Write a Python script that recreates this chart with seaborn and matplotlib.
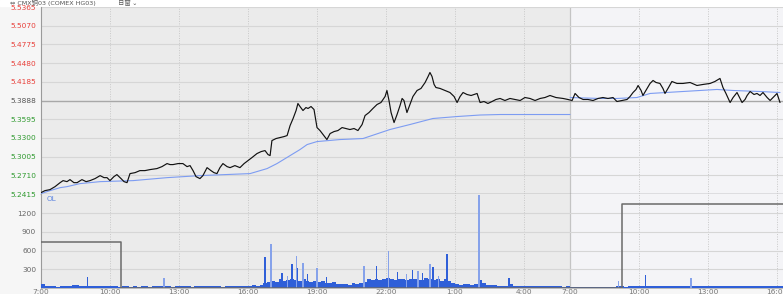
import matplotlib
matplotlib.use("Agg")
import matplotlib.pyplot as plt
import seaborn as sns
import numpy as np
import pandas as pd

# ---------------- data ----------------
# time in hours from the 7:00 session start (second session starts at 23 h)
price_t = [0, 0.17, 0.39, 0.61, 0.83, 0.96, 1.13, 1.26, 1.43, 1.57,
           1.78, 1.96, 2.13, 2.35, 2.57, 2.74, 2.87, 3.0, 3.17, 3.30,
           3.48, 3.61, 3.74, 3.87, 4.09, 4.30, 4.52, 4.74, 5.04, 5.26,
           5.48, 5.61, 5.74, 5.96, 6.17, 6.35, 6.48, 6.61, 6.74, 6.91,
           7.04, 7.22, 7.39, 7.52, 7.65, 7.78, 7.91, 8.09, 8.22, 8.43,
           8.65, 8.83, 9.0, 9.17, 9.39, 9.57, 9.74, 9.87, 9.96, 10.04,
           10.22, 10.39, 10.57, 10.70, 10.83, 10.96, 11.09, 11.17, 11.26, 11.39,
           11.52, 11.61, 11.74, 11.87, 12.0, 12.13, 12.30, 12.43, 12.57, 12.74,
           12.91, 13.09, 13.26, 13.43, 13.61, 13.78, 13.96, 14.09, 14.26, 14.43,
           14.61, 14.78, 14.96, 15.04, 15.13, 15.22, 15.35, 15.48, 15.61, 15.70,
           15.78, 15.91, 16.04, 16.17, 16.35, 16.52, 16.70, 16.83, 16.91, 17.0,
           17.09, 17.17, 17.35, 17.57, 17.78, 17.96, 18.09, 18.22, 18.35, 18.52,
           18.70, 18.83, 18.96, 19.09, 19.26, 19.43, 19.61, 19.78, 19.96, 20.17,
           20.39, 20.61, 20.83, 21.04, 21.26, 21.48, 21.70, 21.91, 22.13, 22.39,
           22.70, 22.91,
           23.09, 23.22, 23.39, 23.57, 23.78, 24.0, 24.22, 24.43, 24.65, 24.87,
           25.04, 25.26, 25.48, 25.61, 25.74, 25.87, 25.96, 26.09, 26.17, 26.30,
           26.48, 26.61, 26.74, 26.91, 27.04, 27.13, 27.26, 27.43, 27.65, 27.91,
           28.22, 28.52, 28.78, 29.09, 29.30, 29.52, 29.65, 29.78, 29.96, 30.09,
           30.26, 30.39, 30.48, 30.61, 30.70, 30.83, 31.0, 31.13, 31.26, 31.39,
           31.57, 31.70, 31.87, 32.0, 32.13]
price_v = [5.2436, 5.2468, 5.2484, 5.2531, 5.2594, 5.2626, 5.2610, 5.2642, 5.2594, 5.2594,
           5.2642, 5.2610, 5.2626, 5.2658, 5.2705, 5.2673, 5.2673, 5.2626, 5.2689, 5.2721,
           5.2658, 5.2610, 5.2594, 5.2737, 5.2752, 5.2784, 5.2784, 5.2800, 5.2816, 5.2847,
           5.2895, 5.2879, 5.2879, 5.2895, 5.2895, 5.2847, 5.2863, 5.2784, 5.2689, 5.2658,
           5.2705, 5.2831, 5.2784, 5.2752, 5.2737, 5.2831, 5.2895, 5.2847, 5.2831, 5.2863,
           5.2831, 5.2895, 5.2942, 5.2989, 5.3053, 5.3084, 5.3100, 5.3037, 5.3021, 5.3258,
           5.3290, 5.3305, 5.3321, 5.3337, 5.3495, 5.3606, 5.3732, 5.3843, 5.3795, 5.3732,
           5.3779, 5.3764, 5.3795, 5.3748, 5.3463, 5.3416, 5.3337, 5.3274, 5.3369, 5.3400,
           5.3416, 5.3463, 5.3448, 5.3432, 5.3448, 5.3416, 5.3511, 5.3653, 5.3700, 5.3764,
           5.3827, 5.3858, 5.3953, 5.4048, 5.3890, 5.3700, 5.3542, 5.3669, 5.3811, 5.3922,
           5.3890, 5.3700, 5.3827, 5.3953, 5.4048, 5.4080, 5.4174, 5.4269, 5.4332, 5.4269,
           5.4143, 5.4095, 5.4080, 5.4048, 5.4016, 5.3953, 5.3858, 5.3953, 5.4016, 5.3985,
           5.3969, 5.3985, 5.4001, 5.3858, 5.3874, 5.3843, 5.3874, 5.3906, 5.3922, 5.3890,
           5.3922, 5.3906, 5.3890, 5.3937, 5.3922, 5.3890, 5.3922, 5.3937, 5.3969, 5.3937,
           5.3922, 5.3906,
           5.3890, 5.4001, 5.3937, 5.3906, 5.3906, 5.3890, 5.3922, 5.3937, 5.3922, 5.3937,
           5.3874, 5.3890, 5.3906, 5.3953, 5.4016, 5.4064, 5.4127, 5.4048, 5.3969, 5.4048,
           5.4159, 5.4206, 5.4174, 5.4159, 5.4080, 5.4001, 5.4080, 5.4190, 5.4159, 5.4159,
           5.4174, 5.4127, 5.4143, 5.4159, 5.4190, 5.4238, 5.4095, 5.4001, 5.3858, 5.3937,
           5.4016, 5.3922, 5.3858, 5.3906, 5.3969, 5.4032, 5.3985, 5.4001, 5.3969, 5.4016,
           5.3937, 5.3890, 5.3953, 5.4001, 5.3858]

vwap1_t = [0, 0.39, 0.83, 1.13, 1.70, 2.57, 4.0, 5.48, 6.91, 9.09, 9.83, 10.26, 10.83,
           11.26, 11.57, 12.0, 13.0, 14.0, 14.52, 15.17, 16.04, 17.04, 18.09, 19.09, 19.96, 23.0]
vwap1_v = [5.2421, 5.2468, 5.2515, 5.2531, 5.2579, 5.2610, 5.2626, 5.2673, 5.2705, 5.2737,
           5.2816, 5.2895, 5.3021, 5.3116, 5.3195, 5.3242, 5.3274, 5.3290, 5.3353, 5.3432,
           5.3511, 5.3606, 5.3637, 5.3661, 5.3669, 5.3669]
vwap2_t = [23.0, 24.3, 25.04, 25.91, 26.48, 27.91, 29.39, 30.09, 31.26, 32.13]
vwap2_v = [5.3937, 5.3922, 5.3922, 5.3937, 5.4001, 5.4032, 5.4064, 5.4048, 5.4032, 5.4016]

prev_close = 5.3888
price_ticks = [5.2415, 5.2710, 5.3005, 5.3300, 5.3595, 5.3888, 5.4185, 5.4480, 5.4775, 5.5070, 5.5365]
price_labels = ["5.2415", "5.2710", "5.3005", "5.3300", "5.3595", "5.3888",
                "5.4185", "5.4480", "5.4775", "5.5070", "5.5365"]

# volume in 10-minute bins (one row per hour)
vol_bins = [
    70, 35, 25, 30, 20, 25,
    30, 25, 50, 45, 30, 25,
    35, 40, 30, 25, 30, 25,
    25, 30, 20, 25, 30, 20,
    25, 20, 30, 25, 20, 25,
    30, 25, 35, 25, 20, 30,
    25, 30, 25, 20, 35, 25,
    40, 30, 25, 30, 25, 20,
    30, 25, 35, 30, 25, 40,
    35, 45, 40, 55, 80, 100,
    120, 95, 140, 105, 125, 150,
    130, 115, 140, 105, 95, 110,
    90, 115, 80, 75, 90, 70,
    60, 70, 55, 80, 60, 75,
    95, 140, 130, 150, 125, 140,
    160, 145, 130, 150, 140, 125,
    140, 150, 125, 135, 155, 145,
    130, 140, 115, 150, 105, 80,
    65, 55, 60, 70, 55, 65,
    130, 75, 55, 45, 50, 35,
    30, 40, 60, 35, 30, 25,
    30, 35, 25, 30, 40, 30,
    35, 25, 30, 25, 20, 25,
    20, 15, 10, 15, 12, 10,
    15, 12, 10, 15, 10, 20,
    35, 25, 20, 30, 25, 30,
    30, 35, 40, 30, 25, 35,
    30, 25, 30, 35, 25, 30,
    25, 30, 35, 25, 30, 25,
    30, 35, 40, 30, 35, 30,
    25, 30, 25, 30, 35, 25,
    30, 25, 35, 30, 25, 30,
    25, 30]
spike_t = [2.04, 5.35, 9.74, 10.0, 10.48, 10.7, 10.91, 11.09, 11.17, 11.39, 11.6, 12.0,
           12.4, 14.04, 14.57, 15.09, 15.5, 15.9, 16.17, 16.39, 16.6, 16.91, 17.04, 17.3,
           17.65, 19.04, 20.35, 25.09, 26.30, 28.26]
spike_v = [177, 160, 500, 707, 240, 200, 385, 514, 320, 400, 230, 320,
           180, 354, 354, 595, 250, 220, 290, 270, 240, 385, 337, 200,
           546, 1495, 160, 110, 210, 160]
oi_t = [0, 3.46, 25.27, 32.3]
oi_v = [745, 0, 1345, 1345]
vol_ticks = [300, 600, 900, 1200]

xtick_pos = [0, 3, 6, 9, 12, 15, 18, 21, 23, 26, 29, 32]
xtick_lab = ["7:00", "10:00", "13:00", "16:00", "19:00", "22:00", "1:00", "4:00",
             "7:00", "10:00", "13:00", "16:00"]

# ---------------- figure ----------------
sns.set_style("white")
plt.rcParams['font.family'] = ['DejaVu Sans', 'Noto Sans CJK SC']

W, H = 783, 294
fig = plt.figure(figsize=(W / 100, H / 100), dpi=100, facecolor="#f6f6f6")
L = 41 / W
ax1 = fig.add_axes([L, 1 - 194 / H, 1 - L, 187 / H])
ax2 = fig.add_axes([L, 1 - 288 / H, 1 - L, 94 / H])

XMAX = 32.26
for ax in (ax1, ax2):
    ax.set_xlim(0, XMAX)
    ax.axvspan(0, 23, color="#ebebeb", zorder=0, lw=0)
    ax.axvspan(23, XMAX, color="#f4f4f7", zorder=0, lw=0)
    for xp in xtick_pos[1:]:
        if xp == 23:
            ax.axvline(xp, color="#c4c4c4", lw=0.9, zorder=1)
        else:
            ax.axvline(xp, color="#c8c8c8", lw=0.7, ls=(0, (1, 1.5)), zorder=1)
    for s in ("top", "right"):
        ax.spines[s].set_visible(False)
    ax.spines["left"].set_color("#9a9a9a")
    ax.spines["left"].set_linewidth(0.8)

# price panel
ax1.set_ylim(5.2415, 5.5365)
for yv in price_ticks:
    if abs(yv - prev_close) > 1e-6:
        ax1.axhline(yv, color="#d6d6d6", lw=0.8, zorder=1)
ax1.axhline(prev_close, color="#a8a8a8", lw=1.0, zorder=2)

sns.lineplot(x=vwap1_t, y=vwap1_v, ax=ax1, color="#7d9cf2", linewidth=0.8,
             estimator=None, sort=False, zorder=3)
sns.lineplot(x=vwap2_t, y=vwap2_v, ax=ax1, color="#7d9cf2", linewidth=0.8,
             estimator=None, sort=False, zorder=3)
sns.lineplot(x=price_t, y=price_v, ax=ax1, color="#111111", linewidth=0.85,
             estimator=None, sort=False, zorder=4)

ax1.set_yticks(price_ticks)
ax1.set_yticklabels(price_labels)
for lab, yv in zip(ax1.get_yticklabels(), price_ticks):
    if yv > prev_close + 1e-6:
        lab.set_color("#e8403a")
    elif yv < prev_close - 1e-6:
        lab.set_color("#2f9a2f")
    else:
        lab.set_color("#555555")
ax1.tick_params(axis="y", length=0, pad=3.5, labelsize=5.3)
ax1.set_xticks([])
ax1.spines["bottom"].set_color("#8a8a8a")
ax1.spines["bottom"].set_linewidth(1.0)
ax1.set_xlabel("")
ax1.set_ylabel("")

# volume panel
ax2.set_ylim(0, 1510)
for yv in vol_ticks:
    ax2.axhline(yv, color="#d6d6d6", lw=0.8, zorder=1)
bin_t = [i / 6 for i in range(len(vol_bins))]
ax2.bar(bin_t, vol_bins, width=1 / 6, align="edge", color="#2f5fd8", lw=0, zorder=3)
spike_cols = ["#2f5fd8" if i % 2 == 0 else "#86a2ea" for i in range(len(spike_t))]
ax2.bar(spike_t, spike_v, width=0.05, color=spike_cols, lw=0, zorder=3)
ax2.plot(oi_t, oi_v, drawstyle="steps-post", color="#6a6a6a", lw=1.1, zorder=4)
ax2.set_yticks(vol_ticks)
ax2.set_yticklabels([str(v) for v in vol_ticks])
ax2.tick_params(axis="y", length=0, pad=3.5, labelsize=5.3, labelcolor="#666666")
ax2.set_xticks(xtick_pos)
ax2.set_xticklabels(xtick_lab)
ax2.tick_params(axis="x", length=0, pad=1.0, labelsize=5.3, labelcolor="#777777")
ax2.spines["bottom"].set_color("#b0b0b0")
ax2.spines["bottom"].set_linewidth(0.6)
ax2.text(0.25, 1480, "OL", color="#5b83e0", fontsize=5.2, va="top", ha="left", zorder=5)

# title strip
fig.patches.append(plt.Rectangle((0, 1 - 6 / H), 1, 6 / H, transform=fig.transFigure,
                                 color="white", zorder=-1))
fig.text(10 / W, 1 - 3 / H, "⇔ CMX铜03 (COMEX HG03)", fontsize=4.6, color="#555555",
         va="center", ha="left", family=['DejaVu Sans', 'Noto Sans CJK SC'])
fig.text(118 / W, 1 - 3 / H, "日窗 ⌄", fontsize=4.6, color="#555555",
         va="center", ha="left", family=['Noto Sans CJK SC', 'DejaVu Sans'])

fig.savefig("out.png", dpi=100, facecolor=fig.get_facecolor())
